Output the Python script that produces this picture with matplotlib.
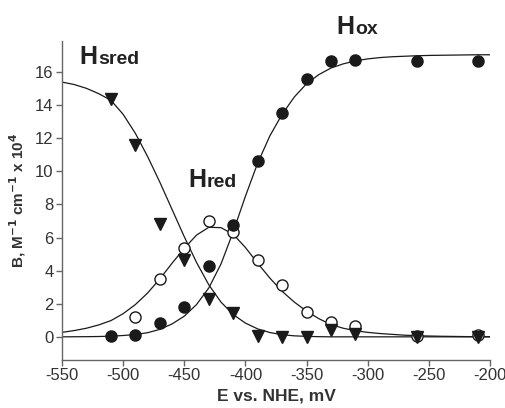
"""
Redox titration: absorbance coefficient vs. potential
"""

import numpy as np
import matplotlib.pyplot as plt

plt.rcParams['font.family'] = ['Liberation Sans', 'DejaVu Sans']
plt.rcParams['axes.unicode_minus'] = False

# measured points (mV, B x 10^4)
E_pts = [-510, -490, -470, -450, -430, -410, -390, -370, -350, -330, -310, -260, -210]
ox_pts = [0.04, 0.14, 0.81, 1.81, 4.31, 6.75, 10.6, 13.5, 15.6, 16.7, 16.75, 16.65, 16.65]
red_pts = [None, 1.17, 3.5, 5.34, 6.99, 6.34, 4.63, 3.12, 1.51, 0.91, 0.65, 0.05, 0.1]
sred_pts = [14.4, 11.6, 6.8, 4.63, 2.28, 1.45, 0.04, 0.02, 0.02, 0.4, 0.15, 0.02, 0.02]

# fitted curves
E_fit = [-550, -540, -530, -520, -510, -500, -490, -480, -470, -460, -450, -440,
         -430, -420, -410, -400, -390, -380, -370, -360, -350, -340, -330, -320,
         -310, -300, -290, -280, -270, -260, -250, -240, -230, -220, -210, -200]
ox_fit = [0.0, 0.005, 0.01, 0.02, 0.04, 0.08, 0.14, 0.25, 0.45, 0.78, 1.25, 1.95,
          2.95, 4.4, 6.35, 8.5, 10.5, 12.15, 13.45, 14.5, 15.3, 15.85, 16.25, 16.5,
          16.68, 16.8, 16.88, 16.93, 16.96, 16.99, 17.01, 17.02, 17.03, 17.04, 17.05, 17.05]
red_fit = [0.27, 0.38, 0.52, 0.72, 0.98, 1.4, 1.95, 2.65, 3.5, 4.45, 5.35, 6.15,
           6.62, 6.6, 6.2, 5.4, 4.45, 3.55, 2.75, 2.1, 1.55, 1.1, 0.74, 0.52,
           0.37, 0.27, 0.2, 0.15, 0.1, 0.07, 0.05, 0.035, 0.025, 0.015, 0.01, 0.005]
sred_fit = [15.4, 15.25, 15.02, 14.7, 14.3, 13.45, 12.3, 10.9, 9.35, 7.7, 6.05, 4.5,
            3.15, 2.1, 1.35, 0.83, 0.48, 0.26, 0.13, 0.06, 0.03, 0.01, 0.0, 0.0,
            0.0, 0.0, 0.0, 0.0, 0.0, 0.0, 0.0, 0.0, 0.0, 0.0, 0.0, 0.0]

xticks = [-550, -500, -450, -400, -350, -300, -250, -200]
yticks = [0, 2, 4, 6, 8, 10, 12, 14, 16]

fig = plt.figure(figsize=(5.06, 4.08), dpi=100)
ax = fig.add_axes([62 / 506, 48 / 408, 428 / 506, 319.3 / 408])

lc = '#1a1a1a'
ax.plot(E_fit, ox_fit, color=lc, lw=0.9)
ax.plot(E_fit, red_fit, color=lc, lw=0.9)
ax.plot(E_fit, sred_fit, color=lc, lw=0.9)

red_E = [e for e, v in zip(E_pts, red_pts) if v is not None]
red_v = [v for v in red_pts if v is not None]
ax.plot(red_E, red_v, 'o', mfc='white', mec=lc, mew=1.0, ms=8, clip_on=False)
ax.plot(E_pts, ox_pts, 'o', color=lc, ms=8, clip_on=False)
ax.plot(E_pts, sred_pts, 'v', color=lc, ms=8.6, clip_on=False)

ax.set_xlim(-550, -200)
ax.set_ylim(-1.4, 17.9)
ax.set_xticks(xticks)
ax.set_yticks(yticks)
for s in ['top', 'right']:
    ax.spines[s].set_visible(False)
for s in ['left', 'bottom']:
    ax.spines[s].set_color('#666666')
    ax.spines[s].set_linewidth(1.0)
ax.tick_params(direction='out', length=4, width=1.0, color='#666666',
               labelsize=12, labelcolor='#333333', pad=2)

ax.set_xlabel('E vs. NHE, mV', fontsize=12.5, fontweight='bold', color='#333333', labelpad=4)
ax.set_ylabel(r'B, M$^{\mathbf{-1}}$ cm$^{\mathbf{-1}}$ x 10$^{\mathbf{4}}$',
              fontsize=11, fontweight='bold', color='#333333', labelpad=5)

tk = dict(fontweight='bold', color='#222222', va='baseline', ha='left', clip_on=False)
ax.text(-536, 16.5, 'H', fontsize=18, **tk)
ax.text(-520, 16.5, 'sred', fontsize=14, **tk)
ax.text(-447, 9.06, 'H', fontsize=18, **tk)
ax.text(-432, 9.06, 'red', fontsize=14, **tk)
ax.text(-325.5, 18.3, 'H', fontsize=18, **tk)
ax.text(-310, 18.3, 'ox', fontsize=14, **tk)

plt.savefig('out.png', dpi=100)
